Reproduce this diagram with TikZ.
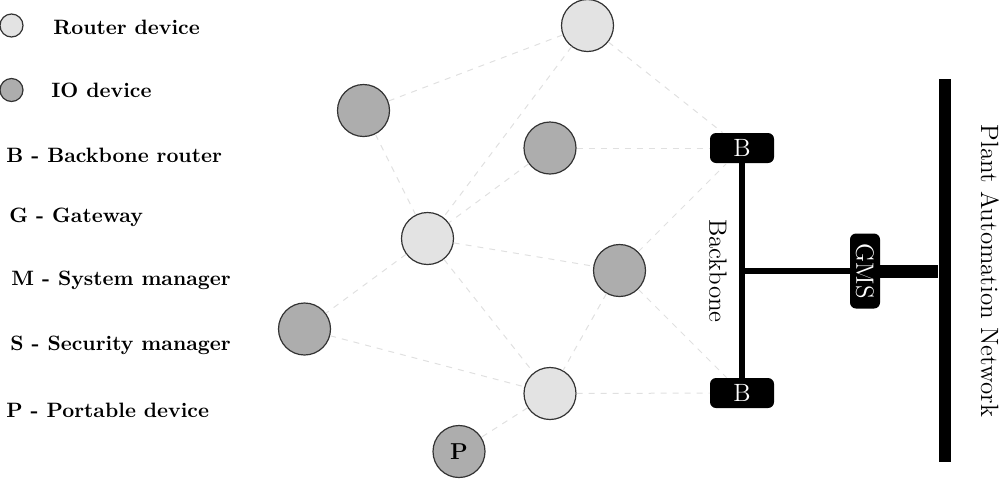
\documentclass[tikz,border=0pt]{standalone}
\begin{document}
\begin{tikzpicture}[x=0.5pt,y=-0.5pt,
  dev/.style={circle,draw=black!80,line width=0.6pt,minimum size=26pt,inner sep=0pt},
  router/.style={dev,fill=black!11},
  iodev/.style={dev,fill=black!32},
  legrouter/.style={circle,draw=black!80,line width=0.6pt,fill=black!11,minimum size=11.5pt,inner sep=0pt},
  legio/.style={circle,draw=black!80,line width=0.6pt,fill=black!32,minimum size=11.5pt,inner sep=0pt},
  legtext/.style={anchor=west,font=\fontsize{10.4}{12}\selectfont\bfseries,inner sep=0pt},
  bbox/.style={fill=black,text=white,rounded corners=3pt,minimum width=32pt,minimum height=15pt,inner sep=0pt,font=\fontsize{12.5}{14}\selectfont},
  link/.style={draw=black!12,dashed,line width=0.5pt},
  bus/.style={line width=3pt,draw=black}
]
\useasboundingbox (0,0) rectangle (1000,478);

% legend
\node[legrouter] (lr) at (11.5,25.5) {};
\node[legio] (li) at (11.5,90) {};
\node[legtext] (t1) at (53,27) {Router device};
\node[legtext] (t2) at (51,90) {IO device};
\node[legtext] (t3) at (6,155) {B - Backbone router};
\node[legtext] (t4) at (9,217) {G - Gateway};
\node[legtext] (t5) at (11,280) {M - System manager};
\node[legtext] (t6) at (10,345) {S - Security manager};
\node[legtext] (t7) at (6,410) {P - Portable device};

% devices
\node[router] (r1) at (587.5,25.5) {};
\node[iodev] (i1) at (363.5,110.5) {};
\node[iodev] (i2) at (550,148) {};
\node[router] (r2) at (427.5,238.5) {};
\node[iodev] (i3) at (619.5,270.5) {};
\node[iodev] (i4) at (304.5,329) {};
\node[router] (r3) at (550,393.5) {};
\node[iodev,font=\fontsize{11.5}{13}\selectfont\bfseries] (p) at (459,451.5) {P};

% backbone routers, gateway, plant network
\node[bbox] (bt) at (742,148) {B};
\node[bbox] (bb) at (742,393) {B};
\node[fill=black,text=white,rounded corners=3pt,minimum width=37.5pt,minimum height=15pt,inner sep=0pt,rotate=-90,font=\fontsize{12.5}{14}\selectfont] (gms) at (865,271) {GMS};
\node[fill=black,minimum width=6pt,minimum height=191.5pt,inner sep=0pt] (pan) at (944.5,270.5) {};
\node[rotate=-90,font=\fontsize{12.5}{14}\selectfont] (pant) at (990,271) {Plant Automation Network};
\node[rotate=-90,font=\fontsize{12.5}{14}\selectfont] (bbt) at (718,271) {Backbone};

% wireless links
\path[link] (r1) -- (i1);
\path[link] (r1) -- (r2);
\path[link] (r1) -- (bt);
\path[link] (i1) -- (r2);
\path[link] (i2) -- (r2);
\path[link] (i2) -- (bt);
\path[link] (r2) -- (i3);
\path[link] (r2) -- (i4);
\path[link] (r2) -- (r3);
\path[link] (i3) -- (bt);
\path[link] (i3) -- (bb);
\path[link] (i3) -- (r3);
\path[link] (i4) -- (r3);
\path[link] (r3) -- (bb);
\path[link] (r3) -- (p);

% wired buses
\draw[bus] (bt) -- (bb);
\draw[bus] (bt |- gms) -- (gms);
\draw[line width=6.5pt] (gms) -- (gms -| pan.west);
\end{tikzpicture}
\end{document}
